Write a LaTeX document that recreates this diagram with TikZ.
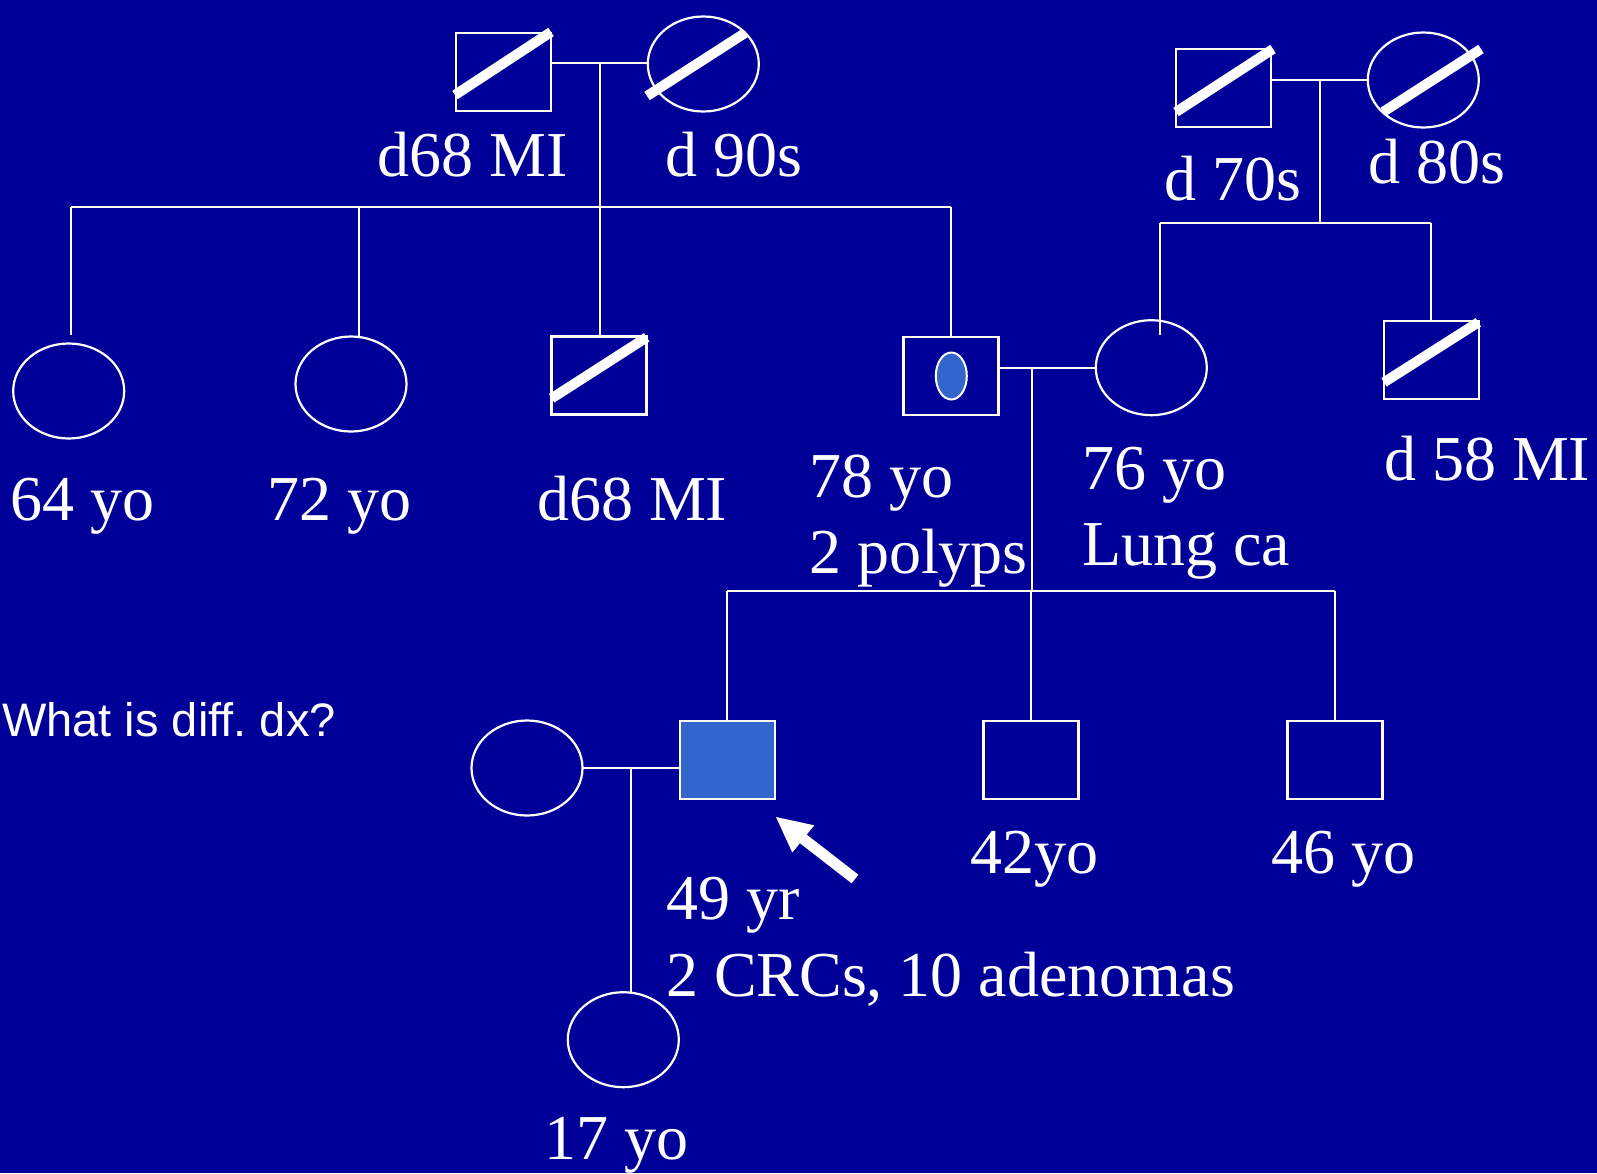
\documentclass[tikz,border=0pt]{standalone}
\usepackage{fontspec}
\setmainfont{Liberation Serif}
\newfontfamily\sansf{Liberation Sans}
\usetikzlibrary{shapes.geometric}
\definecolor{bgblue}{HTML}{000099}
\definecolor{fillblue}{HTML}{3366CC}
\frenchspacing
\begin{document}
\begin{tikzpicture}[x=1pt,y=-1pt,
  ln/.style={draw=white,line width=2pt},
  male/.style={rectangle,draw=white,line width=2.2pt,minimum width=95pt,minimum height=78pt,inner sep=0pt,outer sep=0pt},
  female/.style={ellipse,draw=white,line width=2.2pt,minimum width=111pt,minimum height=95pt,inner sep=0pt,outer sep=0pt},
  dead/.style={draw=white,line width=10pt,line cap=butt},
  lbl/.style={text=white,anchor=base west,inner sep=0pt,outer sep=0pt,font=\fontsize{64}{70}\selectfont}
]
\useasboundingbox (0,0) rectangle (1597,1173);
\fill[bgblue] (0,0) rectangle (1597,1173);

% ---------- persons ----------
\node[male]   (gf1) at (503.5,72) {};
\node[female] (gm1) at (703.3,64) {};
\node[male]   (gf2) at (1223.3,87.7) {};
\node[female] (gm2) at (1423.3,80) {};
\node[female] (a1) at (68.7,391) {};
\node[female] (a2) at (351,384) {};
\node[male]   (a3) at (599,375.5) {};
\node[male]   (father) at (951,376) {};
\node[ellipse,draw=white,line width=2pt,fill=fillblue,minimum width=31pt,minimum height=47pt,inner sep=0pt] (fmark) at (951.3,376) {};
\node[female] (mother) at (1151.3,367.7) {};
\node[male]   (uncle) at (1431.3,359.7) {};
\node[female] (spouse) at (527,768) {};
\node[male,fill=fillblue] (proband) at (727.3,759.7) {};
\node[male]   (b1) at (1031,760) {};
\node[male]   (b2) at (1335,760) {};
\node[female] (child) at (623.3,1039.7) {};

% ---------- deceased slashes ----------
\draw[dead] (455,95) -- (551,32);
\draw[dead] (647,96) -- (745,33);
\draw[dead] (1176,112) -- (1273,49);
\draw[dead] (1383,112) -- (1481,49);
\draw[dead] (551.7,398.3) -- (646.7,337.3);
\draw[dead] (1384,382.3) -- (1478.3,322.3);

% ---------- connectors ----------
\coordinate (m1) at (599.5,63.3);
\coordinate (j1) at (599.5,207.3);
\coordinate (k1) at (70.5,207.3);
\coordinate (k2) at (359,207.3);
\coordinate (k4) at (951,207.3);
\coordinate (a1t) at (70.5,335);
\coordinate (a2t) at (359,336);
\draw[ln] (gf1.east |- m1) -- (gm1.west |- m1);
\draw[ln] (m1) -- (j1);
\draw[ln] (k1) -- (k4);
\draw[ln] (k1) -- (a1t);
\draw[ln] (k2) -- (a2t);
\draw[ln] (j1) -- (j1 |- a3.north);
\draw[ln] (k4) -- (father.north);

\coordinate (m2) at (1320,80);
\coordinate (j2) at (1320,223.3);
\coordinate (l1) at (1160,223.3);
\coordinate (l2) at (1431.3,223.3);
\coordinate (mt) at (1160,335);
\draw[ln] (gf2.east |- m2) -- (gm2.west |- m2);
\draw[ln] (m2) -- (j2);
\draw[ln] (l1) -- (l2);
\draw[ln] (l1) -- (mt);
\draw[ln] (l2) -- (uncle.north);

\coordinate (m3) at (1031.7,367.7);
\coordinate (j3) at (1031.7,591);
\coordinate (p1) at (727.3,591);
\coordinate (p3) at (1335,591);
\draw[ln] (father.east |- m3) -- (mother.west |- m3);
\draw[ln] (m3) -- (j3);
\draw[ln] (p1) -- (p3);
\draw[ln] (p1) -- (proband.north);
\draw[ln] (j3 -| b1.north) -- (b1.north);
\draw[ln] (p3) -- (b2.north);

\coordinate (m4) at (631,767.7);
\coordinate (ct) at (631,992);
\draw[ln] (spouse.east |- m4) -- (proband.west |- m4);
\draw[ln] (m4) -- (ct);

% ---------- arrow ----------
\fill[white] (776,817) -- (814.3,825.3) -- (806.7,834.6) -- (858.4,874.7)
  -- (851.6,883.3) -- (799.9,843.2) -- (792.3,852.5) -- cycle;

% ---------- labels ----------
\node[lbl,anchor=base east] (t1) at (568,176.7) {d68 MI};
\node[lbl] (t2) at (665,176.7) {d 90s};
\node[lbl] (t3) at (1164,200) {d 70s};
\node[lbl] (t4) at (1368,183) {d 80s};
\node[lbl] (t5) at (10,520) {64 yo};
\node[lbl] (t6) at (267,520) {72 yo};
\node[lbl] (t7) at (537,520) {d68 MI};
\node[lbl] (t8a) at (809,497) {78 yo};
\node[lbl] (t8b) at (809,573) {2 polyps};
\node[lbl] (t9a) at (1082,489) {76 yo};
\node[lbl] (t9b) at (1082,565) {Lung ca};
\node[lbl] (t10) at (1384,480) {d 58 MI};
\node[text=white,anchor=base west,inner sep=0pt,font=\sansf\fontsize{47}{50}\selectfont] (t11) at (2,736) {What is diff. dx?};
\node[lbl] (t12) at (970,873) {42yo};
\node[lbl] (t13) at (1271,873) {46 yo};
\node[lbl] (t14a) at (666,919) {49 yr};
\node[lbl] (t14b) at (666,996) {2 CRCs, 10 adenomas};
\node[lbl] (t15) at (544,1159) {17 yo};
\end{tikzpicture}
\end{document}
